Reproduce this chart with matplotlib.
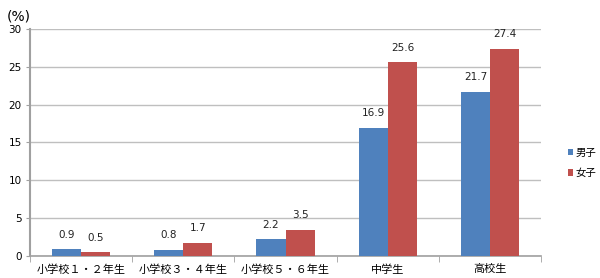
import numpy as np
import matplotlib
matplotlib.use("Agg")
import matplotlib.pyplot as plt

plt.rcParams['font.family'] = ['Noto Sans CJK JP', 'DejaVu Sans']

categories = ["小学校１・２年生", "小学校３・４年生", "小学校５・６年生", "中学生", "高校生"]
boys = [0.9, 0.8, 2.2, 16.9, 21.7]
girls = [0.5, 1.7, 3.5, 25.6, 27.4]
series_names = ["男子", "女子"]
y_ticks = [0, 5, 10, 15, 20, 25, 30]

blue = "#4F81BD"
red = "#C0504D"
grid_c = "#BFBFBF"
axis_c = "#A0A0A0"
num_font = ['DejaVu Sans']

fig = plt.figure(figsize=(6.0, 2.78), dpi=100)
ax = fig.add_axes([0.05, 0.079, 0.852, 0.817])

x = np.arange(len(categories))
w = 0.285
b1 = ax.bar(x - w / 2, boys, w, color=blue, label=series_names[0], zorder=3)
b2 = ax.bar(x + w / 2, girls, w, color=red, label=series_names[1], zorder=3)

for bars, vals in ((b1, boys), (b2, girls)):
    for r, v in zip(bars, vals):
        ax.annotate(f"{v:.1f}", (r.get_x() + r.get_width() / 2, v),
                    xytext=(0, 7), textcoords="offset points",
                    ha="center", va="bottom", fontsize=7.5,
                    family=num_font, color="#222222")

ax.set_xlim(-0.5, len(categories) - 0.5)
ax.set_ylim(0, 30)
ax.set_yticks(y_ticks)
ax.set_yticklabels([str(t) for t in y_ticks], family=num_font, fontsize=7.5)
ax.tick_params(axis="y", length=3, color=axis_c, pad=3)
ax.yaxis.grid(True, color=grid_c, linewidth=1, zorder=0)

ax.set_xticks(x)
ax.set_xticklabels(categories, fontsize=8)
ax.tick_params(axis="x", length=0, pad=6)
ax.set_xticks(np.arange(-0.5, len(categories)), minor=True)
ax.tick_params(axis="x", which="minor", length=4, color=axis_c)

for s in ("top", "right"):
    ax.spines[s].set_visible(False)
ax.spines["left"].set_color(axis_c)
ax.spines["left"].set_linewidth(1.5)
ax.spines["bottom"].set_color(axis_c)
ax.spines["bottom"].set_linewidth(1.2)

fig.text(0.012, 0.94, "(%)", fontsize=10, family=num_font, ha="left", va="center")

fig.legend(handles=[b1, b2], labels=series_names, loc="center left",
           bbox_to_anchor=(0.946, 0.414), bbox_transform=fig.transFigure,
           frameon=False, fontsize=7.5, handlelength=0.55, handleheight=0.55,
           handletextpad=0.25, labelspacing=1.0, borderaxespad=0, borderpad=0)

fig.savefig("out.png", dpi=100)
